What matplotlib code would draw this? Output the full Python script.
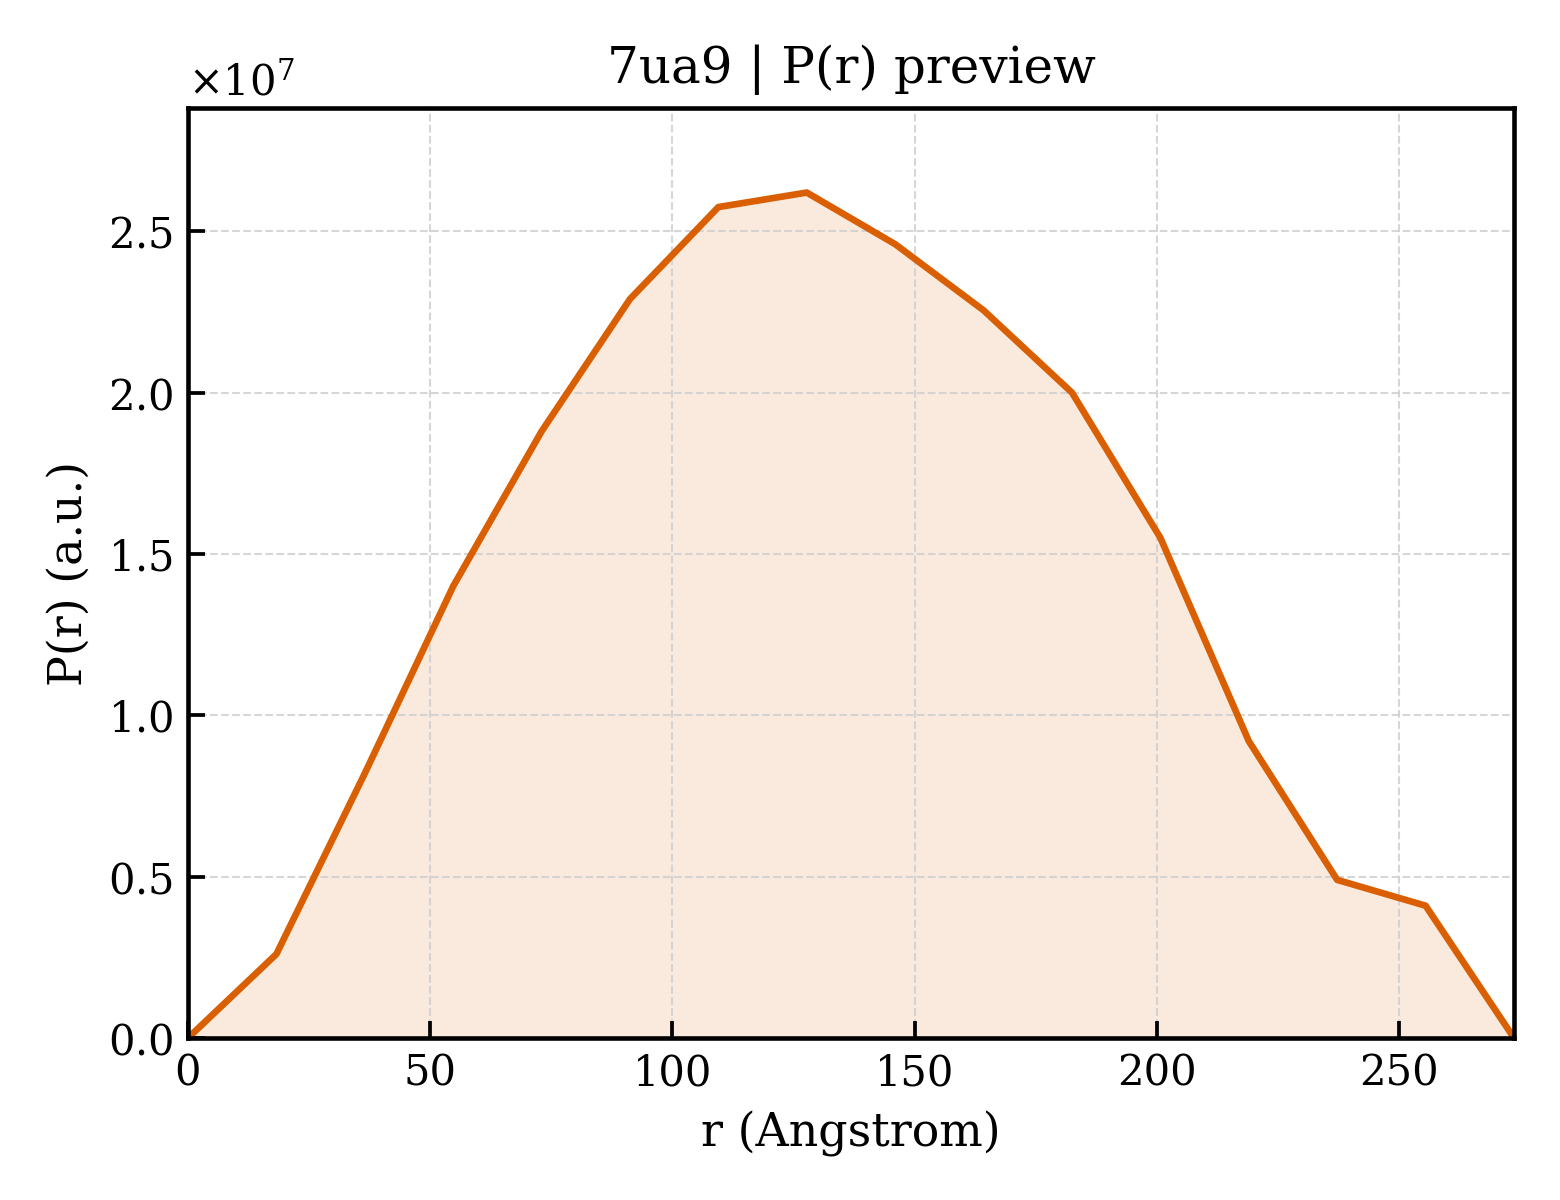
import numpy as np
import matplotlib
matplotlib.use("Agg")
import matplotlib.pyplot as plt

# P(r) preview values
r_angstrom = [0.0, 18.25, 36.5, 54.75, 73.0, 91.25, 109.5, 127.75,
              146.0, 164.25, 182.5, 200.75, 219.0, 237.25, 255.5, 273.75]
pr_values = [0.0, 0.26e7, 0.82e7, 1.40e7, 1.88e7, 2.29e7, 2.575e7, 2.62e7,
             2.46e7, 2.255e7, 2.00e7, 1.55e7, 0.92e7, 0.49e7, 0.41e7, 0.0]

LINE_COLOR = '#d95f02'

plt.rcParams['font.family'] = 'DejaVu Serif'
plt.rcParams['mathtext.fontset'] = 'dejavuserif'

fig = plt.figure(figsize=(5.2, 4), dpi=300)
ax = fig.add_axes([0.1205, 0.135, 0.85, 0.775])

r = np.array(r_angstrom)
pr = np.array(pr_values)

ax.fill_between(r, 0, pr, color=LINE_COLOR, alpha=0.13, linewidth=0)
ax.plot(r, pr, color=LINE_COLOR, linewidth=1.6)

ax.set_xlim(0, r.max())
ax.set_ylim(0, pr.max() * 1.1)
ax.set_yticks([0, 0.5e7, 1.0e7, 1.5e7, 2.0e7, 2.5e7])
ax.ticklabel_format(axis='y', style='sci', scilimits=(0, 0), useMathText=True)

ax.set_title("7ua9 | P(r) preview", fontsize=12)
ax.set_xlabel("r (Angstrom)", fontsize=11)
ax.set_ylabel("P(r) (a.u.)", fontsize=11)

ax.tick_params(direction='in', labelsize=10, length=4, width=0.9)
ax.grid(True, linestyle='--', linewidth=0.5, color='#cccccc', alpha=0.8)
for s in ax.spines.values():
    s.set_linewidth(1.1)
ax.yaxis.get_offset_text().set_fontsize(10)

fig.savefig("out.png", dpi=300)
plt.close(fig)
